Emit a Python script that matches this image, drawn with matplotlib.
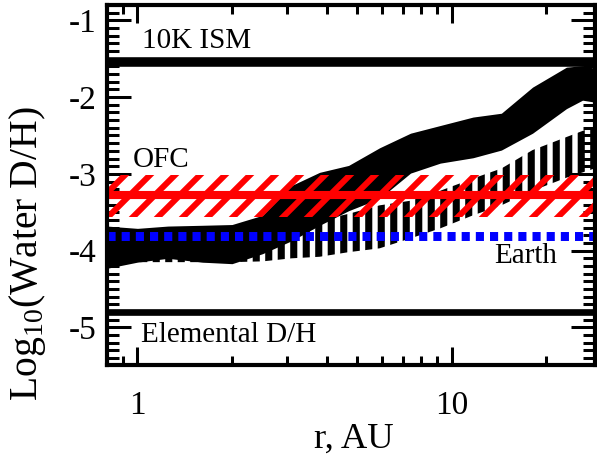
import matplotlib
matplotlib.use("Agg")
import matplotlib.pyplot as plt
from matplotlib.ticker import LogLocator, FixedLocator, MultipleLocator, NullFormatter
import numpy as np

plt.rcParams['font.family'] = ['Liberation Serif', 'DejaVu Serif']
plt.rcParams['mathtext.fontset'] = 'custom'
plt.rcParams['mathtext.rm'] = 'Liberation Serif'
plt.rcParams['axes.unicode_minus'] = False
plt.rcParams['hatch.linewidth'] = 3.2
plt.rcParams['lines.scale_dashes'] = False

# reference levels (log10 D/H)
ism_level = -1.54
ofc_level = -3.28
ofc_lo, ofc_hi = -3.56, -3.01
earth_level = -3.81
elemental_level = -4.80

# model 1 (solid band)
r_solid = [0.8, 1.0, 1.25, 1.6, 2.0, 2.5, 3.1, 3.8, 4.7, 5.9, 7.4, 9.2, 11.7, 14.4, 18.1, 23.2, 26.1, 29.0]
solid_hi = [-3.68, -3.71, -3.68, -3.67, -3.66, -3.54, -3.15, -2.98, -2.89, -2.66, -2.47, -2.37,
            -2.26, -2.21, -1.87, -1.61, -1.59, -1.63]
solid_lo = [-4.23, -4.15, -4.10, -4.15, -4.17, -4.04, -3.87, -3.67, -3.48, -3.32, -2.99, -2.86,
            -2.79, -2.69, -2.47, -2.15, -2.04, -2.07]

# model 2 (striped band)
r_dash = [0.8, 1.0, 1.25, 1.6, 2.0, 2.5, 3.1, 3.8, 4.7, 5.9, 7.4, 9.2, 11.7, 14.4, 18.1, 23.2, 29.0]
dash_hi = [-3.76, -3.79, -3.79, -3.79, -3.81, -3.76, -3.68, -3.61, -3.52, -3.41, -3.35, -3.22,
           -3.06, -2.93, -2.69, -2.52, -2.37]
dash_lo = [-4.15, -4.15, -4.15, -4.15, -4.15, -4.14, -4.10, -4.08, -4.02, -3.97, -3.84, -3.71,
           -3.54, -3.41, -3.22, -3.05, -2.92]

fig = plt.figure(figsize=(597/150, 460/150), dpi=150)
ax = fig.add_axes([107/597, 1-365/460, 488/597, 360/460])

xmin, xmax = 0.80, 28.6
ax.set_xscale('log')
ax.set_xlim(xmin, xmax)
ax.set_ylim(-5.49, -0.80)

with plt.rc_context({'hatch.linewidth': 3.4}):
    ax.fill_between(r_dash, dash_lo, dash_hi, facecolor='none', edgecolor='black',
                    hatch='||', linewidth=0, zorder=2)
ax.fill_between(r_solid, solid_lo, solid_hi, color='black', linewidth=0, zorder=3)

with plt.rc_context({'hatch.linewidth': 2.9}):
    ax.fill_between([xmin, xmax], [ofc_lo]*2, [ofc_hi]*2, facecolor='none', edgecolor='red',
                    hatch='//', linewidth=0, zorder=4)
ax.axhline(ofc_level, color='red', lw=3.9, zorder=5)
ax.axhline(earth_level, color='blue', lw=4.3, dashes=(3.9, 2.9), zorder=6)
ax.axhline(ism_level, color='black', lw=4.6, zorder=6)
ax.axhline(elemental_level, color='black', lw=3.2, zorder=6)

ax.text(1.037, -1.365, '10K ISM', fontsize=14, va='baseline', ha='left')
ax.text(0.964, -2.915, 'OFC', fontsize=14, va='baseline', ha='left')
ax.text(21.6, -4.166, 'Earth', fontsize=14, va='baseline', ha='right')
ax.text(1.03, -5.195, 'Elemental D/H', fontsize=14, va='baseline', ha='left')

ax.xaxis.set_major_locator(FixedLocator([1, 10]))
ax.set_xticklabels(['1', '10'])
ax.xaxis.set_minor_locator(LogLocator(base=10, subs=np.arange(2, 10)))
ax.xaxis.set_minor_formatter(NullFormatter())
ax.yaxis.set_major_locator(FixedLocator([-5, -4, -3, -2, -1]))
ax.set_yticklabels(['-5', '-4', '-3', '-2', '-1'])
ax.yaxis.set_minor_locator(MultipleLocator(0.1))

ax.tick_params(axis='both', which='both', direction='in', top=True, right=True, width=1.45)
ax.tick_params(axis='x', which='major', length=8.6, pad=12, labelsize=16)
ax.tick_params(axis='x', which='minor', length=4.3)
ax.tick_params(axis='y', which='major', length=11.5, pad=4.8, labelsize=16)
ax.tick_params(axis='y', which='minor', length=5.8)
for s in ax.spines.values():
    s.set_linewidth(2.0)
    s.set_zorder(10)

ax.set_xlabel('r, AU', fontsize=17.5)
ax.set_ylabel('Log$_{\\rm 10}$(Water D/H)', fontsize=19)
ax.xaxis.set_label_coords(0.506, -0.161)
ax.yaxis.set_label_coords(-0.12, 0.31)

fig.savefig('out.png', dpi=150)
